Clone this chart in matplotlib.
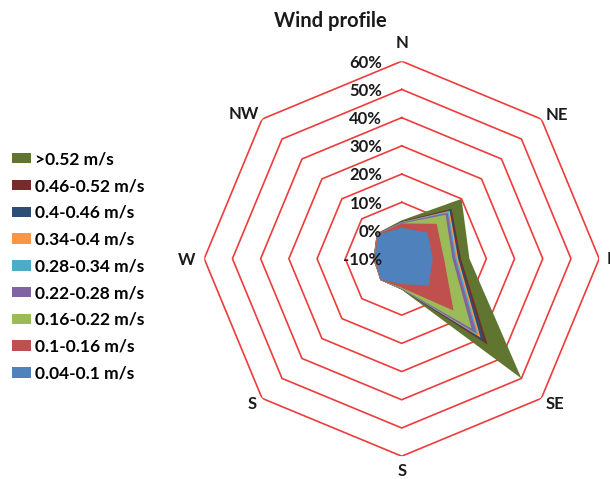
import numpy as np
import matplotlib.pyplot as plt
from matplotlib.patches import Patch

plt.rcParams['font.family'] = ['Lato', 'DejaVu Sans']

# compass sectors (the SW sector is labelled "S" on the original sheet)
directions = ['N', 'NE', 'E', 'SE', 'S', 'S', 'W', 'NW']
ring_values = [-10, 0, 10, 20, 30, 40, 50, 60]

# frequency (%) per sector, order N, NE, E, SE, S, SW, W, NW
v_004_010 = [1.0, 3.0, 1.0, 3.5, -1.0, 0.5, -0.7, 2.0]
v_010_016 = [2.5, 7.5, 5.0, 16.0, 0.3, 0.7, -0.3, 2.2]
v_016_022 = [2.5, 12.0, 8.0, 25.0, 0.6, 0.7, -0.2, 2.2]
v_022_028 = [2.8, 13.0, 9.0, 27.5, 0.7, 0.7, -0.1, 2.3]
v_028_034 = [2.9, 13.5, 9.5, 28.3, 0.8, 0.7, 0.0, 2.3]
v_034_040 = [3.0, 14.0, 10.0, 29.5, 0.8, 0.7, 0.0, 2.4]
v_040_046 = [3.1, 14.5, 10.5, 31.5, 0.9, 0.7, 0.0, 2.4]
v_046_052 = [3.2, 15.0, 11.0, 33.0, 0.9, 0.7, 0.0, 2.5]
v_052_up = [3.6, 20.0, 14.0, 50.0, 1.0, 0.7, 0.0, 2.6]

labels = ['0.04-0.1 m/s', '0.1-0.16 m/s', '0.16-0.22 m/s', '0.22-0.28 m/s',
          '0.28-0.34 m/s', '0.34-0.4 m/s', '0.4-0.46 m/s', '0.46-0.52 m/s',
          '>0.52 m/s']
series = [v_004_010, v_010_016, v_016_022, v_022_028, v_028_034,
          v_034_040, v_040_046, v_046_052, v_052_up]
colors = ['#4F81BD', '#C0504D', '#9BBB59', '#8064A2', '#4BACC6',
          '#F79646', '#2C4D75', '#772C2A', '#5F7530']

# where each direction name sits relative to its outer vertex (points)
label_offsets = [(0, 13), (11, 3), (9, 0), (10, -4),
                 (0, -11), (-7, -4), (-13, -1), (-13, 4)]

theta = np.deg2rad(np.arange(0, 360, 45))
theta_c = np.append(theta, theta[0])

fig = plt.figure(figsize=(6.1, 4.79), dpi=100)
ax = fig.add_axes([0.3348, 0.0476, 0.6475, 0.8246], projection='polar')
ax.set_theta_zero_location('N')
ax.set_theta_direction(-1)
ax.set_ylim(-10, 60)

# octagonal gridlines
for v in ring_values[1:]:
    ax.plot(theta_c, [v] * len(theta_c), color='#EE3B3B', lw=1.2, zorder=1)

# biggest class at the back, smallest in front
for vals, c in reversed(list(zip(series, colors))):
    ax.fill(theta_c, vals + vals[:1], color=c, lw=0, zorder=2)

for v in ring_values:
    ax.annotate(f'{v}%', xy=(0, v), xytext=(-14, -1), textcoords='offset points',
                ha='right', va='center', fontsize=12, fontweight='bold',
                color='#1a1a1a', zorder=5)

for t, name, off in zip(theta, directions, label_offsets):
    ax.annotate(name, xy=(t, 60), xytext=off, textcoords='offset points',
                ha='center', va='center', fontsize=12, fontweight='bold',
                color='#1a1a1a', annotation_clip=False)

ax.grid(False)
ax.spines['polar'].set_visible(False)
ax.set_yticks([])
ax.set_xticks([])

fig.text(0.541, 0.956, 'Wind profile', ha='center', va='center',
         fontsize=14.5, fontweight='bold', color='#1a1a1a')

handles = [Patch(facecolor=c, edgecolor='none') for c in colors]
fig.legend(handles[::-1], labels[::-1], loc='upper left',
           bbox_to_anchor=(0.019, 0.684), frameon=False, borderpad=0,
           borderaxespad=0, handlelength=1.1, handleheight=0.55,
           handletextpad=0.25, labelspacing=0.62,
           prop={'size': 12.5, 'weight': 'bold'})

fig.savefig('out.png', dpi=100)
